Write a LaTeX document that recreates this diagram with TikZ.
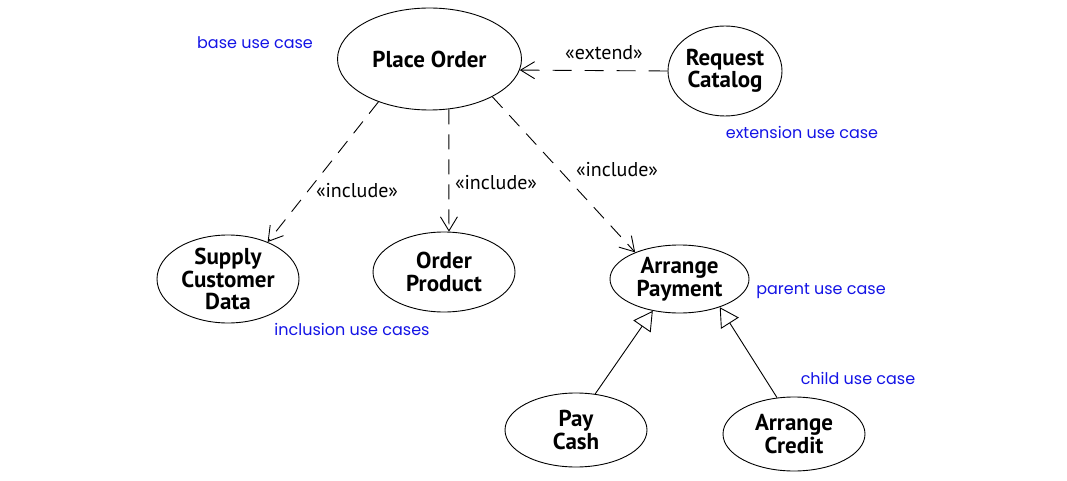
\documentclass[tikz,border=0pt]{standalone}
\usepackage{fontspec}
\setmainfont{PT Sans}
\newfontfamily\bluefont{Poppins}
\usetikzlibrary{shapes.geometric,arrows.meta}
\definecolor{noteblue}{RGB}{20,20,230}
\tikzset{
  usecase/.style={ellipse,draw,line width=0.9pt,inner sep=0pt,align=center,
    font=\fontsize{23}{22.5}\selectfont\bfseries},
  dep/.style={draw,line width=0.9pt,dash pattern=on 15pt off 10pt,
    -{Straight Barb[length=14pt,width=17pt,line width=0.9pt]}},
  ext/.style={dep,dash pattern=on 19pt off 13pt},
  gen/.style={draw,line width=0.9pt,-{Triangle[open,length=19pt,width=21pt,line width=0.9pt,fill=white]}},
  stereo/.style={font=\fontsize{20}{22}\selectfont,inner sep=1pt},
  note/.style={font=\fontsize{16}{18}\selectfont\bluefont,text=noteblue,inner sep=1pt}
}
\begin{document}
\begin{tikzpicture}[x=1pt,y=-1pt]
\useasboundingbox[fill=white] (0,0) rectangle (1067,481);
\node[usecase,minimum width=184pt,minimum height=102pt] (po) at (429.5,59) {Place Order};
\node[usecase,minimum width=114pt,minimum height=90pt] (rc) at (725,71) {Request\\Catalog};
\node[usecase,minimum width=142pt,minimum height=88pt] (scd) at (228,279) {Supply\\Customer\\Data};
\node[usecase,minimum width=142pt,minimum height=80pt] (op) at (444,272) {Order\\Product};
\node[usecase,minimum width=139pt,minimum height=68pt] (ap) at (679.5,279) {Arrange\\Payment};
\node[usecase,minimum width=142pt,minimum height=74pt] (pc) at (576,430) {Pay\\Cash};
\node[usecase,minimum width=142pt,minimum height=74pt] (ac) at (794,434) {Arrange\\Credit};

\draw[ext] (rc.west) -- (po.353);
\draw[dep] (po.220) -- (scd.43);
\draw[dep] (po.291) -- (op.83);
\draw[dep] (po.329.6) -- (ap.149);
\draw[gen] (pc.62) -- (ap.230);
\draw[gen] (ac.115) -- (ap.325);

\node[stereo] (lext) at (604,53) {«extend»};
\node[stereo] (linc1) at (357,191) {«include»};
\node[stereo] (linc2) at (496,183) {«include»};
\node[stereo] (linc3) at (617,170) {«include»};

\node[note] (nbase) at (255,43) {base use case};
\node[note] (nextn) at (802,132) {extension use case};
\node[note] (nincl) at (352,329) {inclusion use cases};
\node[note] (npar) at (821,291) {parent use case};
\node[note] (nchild) at (858,378) {child use case};
\end{tikzpicture}
\end{document}
